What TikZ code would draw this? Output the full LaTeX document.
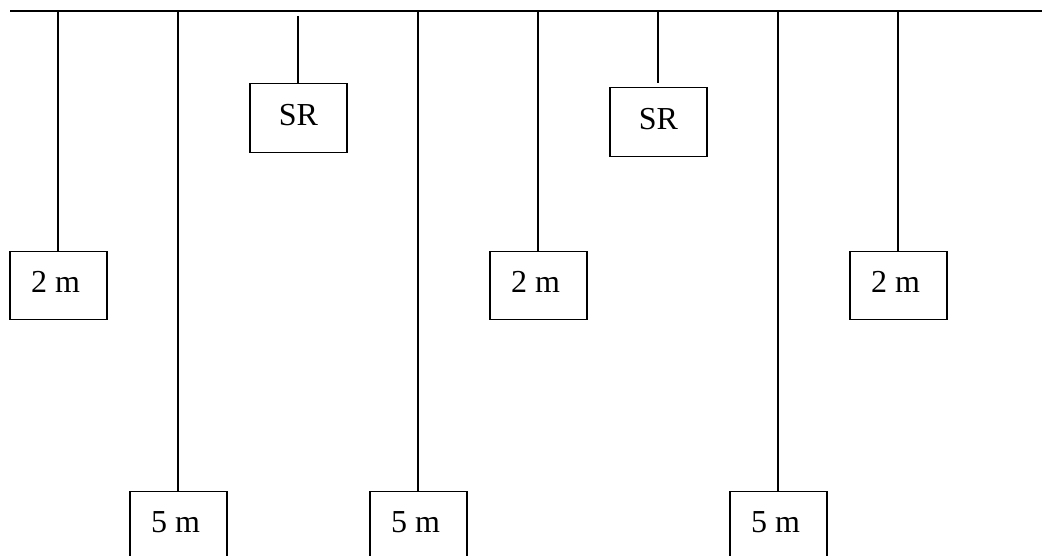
\documentclass[tikz,border=0pt]{standalone}
\usepackage{fontspec}
\setmainfont{Liberation Serif}
\begin{document}
\begin{tikzpicture}[x=1pt,y=-1pt,
  line width=1.3pt,
  wbox/.style={draw, rectangle, minimum width=97pt, minimum height=68pt, inner sep=0pt,
    anchor=north, font=\fontsize{32}{38}\selectfont, text height=22pt, text depth=8pt}]
\useasboundingbox (0,0) rectangle (1042,556);
\clip (0,0) rectangle (1042,556);
% top bar
\coordinate (L) at (10,11);
\coordinate (R) at (1044,11);
\draw (L) -- (R);
% 2 m boxes
\node[wbox] (a1) at (58.5,251) {2 m\kern6pt};
\node[wbox] (a2) at (538.5,251) {2 m\kern6pt};
\node[wbox] (a3) at (898.5,251) {2 m\kern6pt};
% 5 m boxes
\node[wbox] (c1) at (178.5,491) {5 m\kern6pt};
\node[wbox] (c2) at (418.5,491) {5 m\kern6pt};
\node[wbox] (c3) at (778.5,491) {5 m\kern6pt};
% SR boxes
\node[wbox, minimum height=69pt] (s1) at (298.5,83) {SR};
\node[wbox, minimum height=69pt] (s2) at (658.5,87) {SR};
% hanging points
\coordinate (ta1) at (58,11);
\coordinate (tc1) at (178,11);
\coordinate (ts1) at (298,16);
\coordinate (tc2) at (418,11);
\coordinate (ta2) at (538,11);
\coordinate (ts2) at (658,11);
\coordinate (es2) at (658,83);
\coordinate (tc3) at (778,11);
\coordinate (ta3) at (898,11);
\draw (ta1) -- (ta1 |- a1.north);
\draw (tc1) -- (tc1 |- c1.north);
\draw (ts1) -- (ts1 |- s1.north);
\draw (tc2) -- (tc2 |- c2.north);
\draw (ta2) -- (ta2 |- a2.north);
\draw (ts2) -- (es2);
\draw (tc3) -- (tc3 |- c3.north);
\draw (ta3) -- (ta3 |- a3.north);
\end{tikzpicture}
\end{document}
